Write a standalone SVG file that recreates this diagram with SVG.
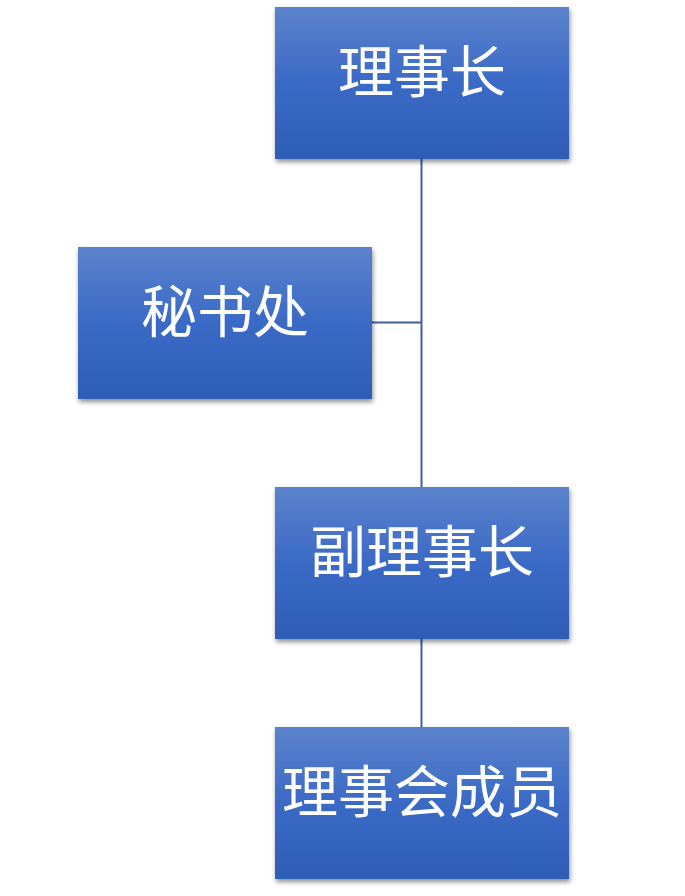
<svg xmlns="http://www.w3.org/2000/svg" width="685" height="896" viewBox="0 0 685 896">
<defs>
<linearGradient id="g" x1="0" y1="0" x2="0" y2="1">
<stop offset="0" stop-color="#5C82CC"/>
<stop offset="0.5" stop-color="#3A6AC6"/>
<stop offset="1" stop-color="#2E5DB6"/>
</linearGradient>
<filter id="sh" x="-10%" y="-10%" width="125%" height="130%">
<feGaussianBlur in="SourceAlpha" stdDeviation="2.5"/>
<feOffset dx="1" dy="3" result="b"/>
<feComponentTransfer><feFuncA type="linear" slope="0.45"/></feComponentTransfer>
<feMerge><feMergeNode/><feMergeNode in="SourceGraphic"/></feMerge>
</filter>
<style>
.box{fill:url(#g);filter:url(#sh);}
.t{font-family:"Noto Sans CJK SC","Noto Sans",sans-serif;font-size:56px;fill:#fff;text-anchor:middle;}
.c{stroke:#3F5E9E;stroke-width:2;fill:none;}
</style>
</defs>
<rect width="685" height="896" fill="#fff"/>
<g id="connectors">
<path class="c" d="M421.5,159 V487"/>
<path class="c" d="M372,322.5 H421.5"/>
<path class="c" d="M421.5,639 V727"/>
</g>
<g id="chairman">
<rect class="box" x="275" y="7" width="294" height="152"/>
<text class="t" x="422" y="92">理事长</text>
</g>
<g id="secretariat">
<rect class="box" x="78" y="247" width="294" height="152"/>
<text class="t" x="225" y="332">秘书处</text>
</g>
<g id="vice-chairman">
<rect class="box" x="275" y="487" width="294" height="152"/>
<text class="t" x="422" y="572">副理事长</text>
</g>
<g id="members">
<rect class="box" x="275" y="727" width="294" height="152"/>
<text class="t" x="422" y="812">理事会成员</text>
</g>
</svg>
